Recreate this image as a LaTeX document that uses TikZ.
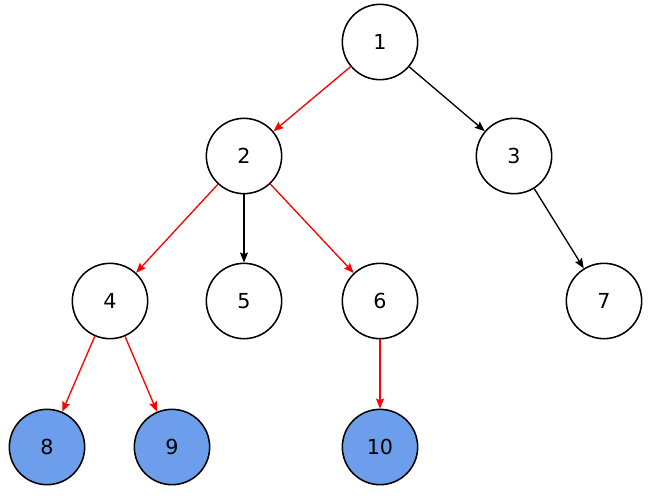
\documentclass[tikz,border=0pt]{standalone}
\usepackage{fontspec}
\setmainfont{DejaVu Sans}
\usetikzlibrary{arrows.meta}

\tikzset{
  vert/.style={circle, draw, line width=1.15pt, minimum size=56.5pt, inner sep=0pt,
    font=\fontsize{15.5}{18}\selectfont},
  leaf/.style={vert, fill=leafblue},
  edge/.style={line width=1pt, -{Stealth[length=7.5pt,width=6pt,inset=1.2pt]}},
  path/.style={edge, red},
}
\definecolor{leafblue}{HTML}{6D9EEB}

\begin{document}
\begin{tikzpicture}[x=0.75pt, y=-0.75pt]
  \useasboundingbox (0,0) rectangle (650,497);

  \node [vert] (v1) at (380,42) {1};
  \node [vert] (v2) at (244,156) {2};
  \node [vert] (v3) at (514,156) {3};
  \node [vert] (v4) at (110,301) {4};
  \node [vert] (v5) at (244,301) {5};
  \node [vert] (v6) at (380,301) {6};
  \node [vert] (v7) at (604,301) {7};
  \node [leaf] (v8) at (47,447) {8};
  \node [leaf] (v9) at (172,447) {9};
  \node [leaf] (v10) at (380,447) {10};

  \draw [path] (v1) -- (v2);
  \draw [edge] (v1) -- (v3);
  \draw [path] (v2) -- (v4);
  \draw [edge] (v2) -- (v5);
  \draw [path] (v2) -- (v6);
  \draw [edge] (v3) -- (v7);
  \draw [path] (v4) -- (v8);
  \draw [path] (v4) -- (v9);
  \draw [path] (v6) -- (v10);
\end{tikzpicture}
\end{document}
